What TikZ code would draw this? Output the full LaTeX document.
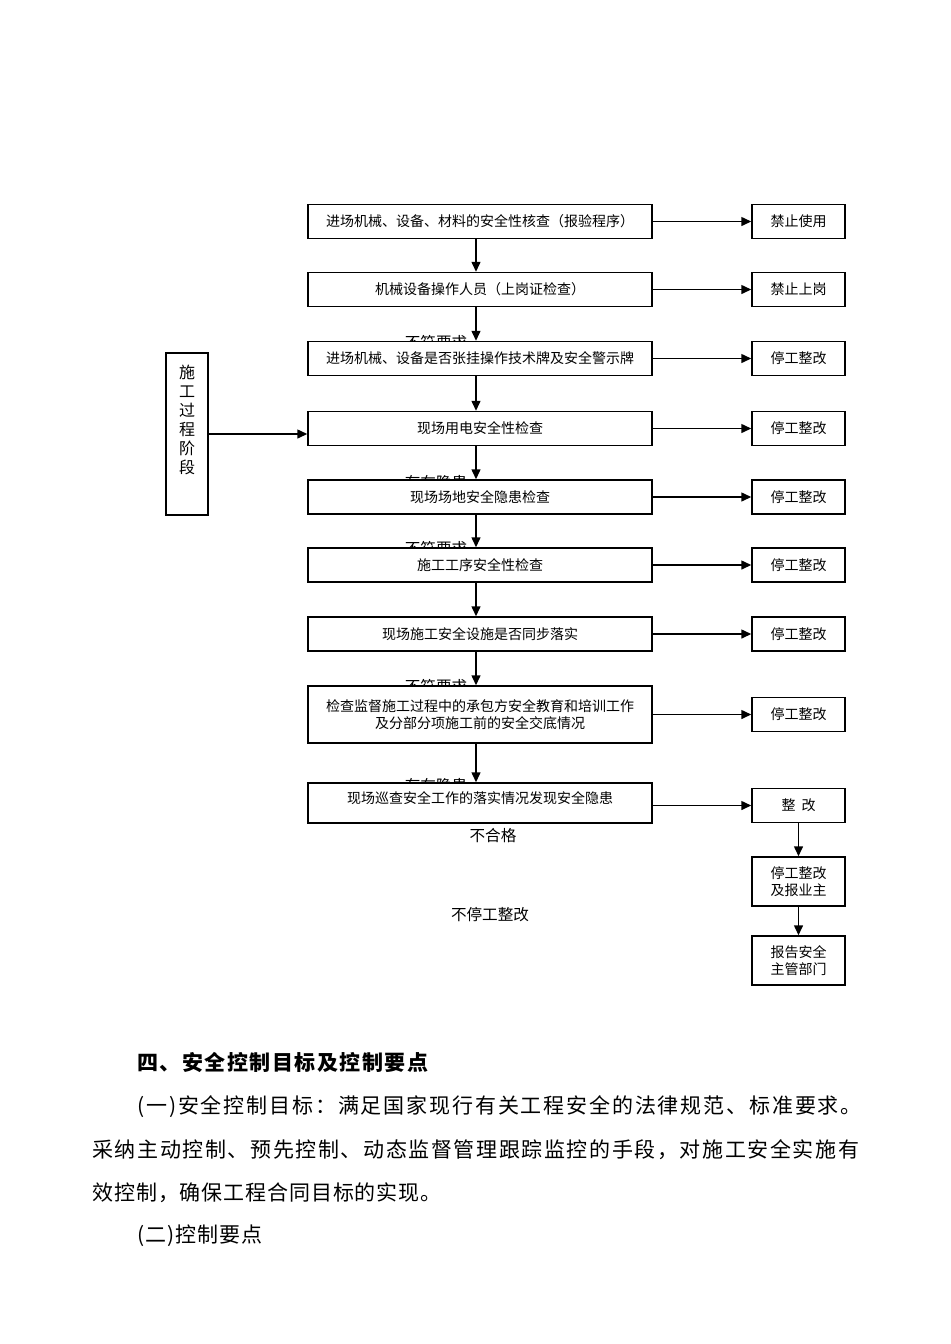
\documentclass[tikz,border=0pt]{standalone}
\usepackage{fontspec}
\setmainfont{Noto Sans CJK SC}
\usetikzlibrary{arrows.meta,positioning}

\begin{document}
\begin{tikzpicture}[x=0.5pt,y=-0.5pt,
    checkbox/.style={draw,line width=0.75pt,fill=white,minimum width=172pt,minimum height=17pt,inner sep=1pt,font=\fontsize{7}{8.5}\selectfont},
    resultbox/.style={draw,line width=0.75pt,fill=white,minimum width=46.5pt,minimum height=17pt,inner sep=1pt,font=\fontsize{7}{8.5}\selectfont},
    hint/.style={font=\fontsize{7.8}{9.5}\selectfont},
    arr/.style={line width=0.75pt,-{Triangle[length=5pt,width=4.5pt]}},
    para/.style={anchor=west,inner sep=0pt}]
    \useasboundingbox (0,0) rectangle (950,1344);

    % labels left under the boxes
    \node[hint] at (436,343) {不符要求};
    \node[hint] at (436,483) {存在隐患};
    \node[hint] at (436,549) {不符要求};
    \node[hint] at (436,687) {不符要求};
    \node[hint] at (436,786) {存在隐患};

    % main checks
    \node[checkbox] (b1) at (480,221.5) {进场机械、设备、材料的安全性核查（报验程序）};
    \node[checkbox] (b2) at (480,289.5) {机械设备操作人员（上岗证检查）};
    \node[checkbox] (b3) at (480,358.5) {进场机械、设备是否张挂操作技术牌及安全警示牌};
    \node[checkbox] (b4) at (480,428.5) {现场用电安全性检查};
    \node[checkbox] (b5) at (480,497) {现场场地安全隐患检查};
    \node[checkbox] (b6) at (480,565) {施工工序安全性检查};
    \node[checkbox] (b7) at (480,634) {现场施工安全设施是否同步落实};
    \node[checkbox,minimum height=28.5pt,align=center] (b8) at (480,714.5) {检查监督施工过程中的承包方安全教育和培训工作\\及分部分项施工前的安全交底情况};
    \node[checkbox,minimum height=20pt,text depth=5pt] (b9) at (480,803) {现场巡查安全工作的落实情况发现安全隐患};

    % results
    \node[resultbox] (r1) at (798.5,221.5) {禁止使用};
    \node[resultbox] (r2) at (798.5,289.5) {禁止上岗};
    \node[resultbox] (r3) at (798.5,358.5) {停工整改};
    \node[resultbox] (r4) at (798.5,428.5) {停工整改};
    \node[resultbox] (r5) at (798.5,497) {停工整改};
    \node[resultbox] (r6) at (798.5,565) {停工整改};
    \node[resultbox] (r7) at (798.5,634) {停工整改};
    \node[resultbox] (r8) at (798.5,714.5) {停工整改};
    \node[resultbox] (r9) at (798.5,805.5) {整\hspace{3pt}改};
    \node[resultbox,minimum height=24.5pt,align=center] (r10) at (798.5,881.5) {停工整改\\及报业主};
    \node[resultbox,minimum height=24.5pt,align=center] (r11) at (798.5,960.5) {报告安全\\主管部门};

    % stage box
    \node[draw,line width=0.75pt,minimum width=21pt,minimum height=81pt] (stage) at (187,434) {};
    \node[font=\fontsize{8}{9.5}\selectfont,align=center] (stagetext) at (187,420) {施\\工\\过\\程\\阶\\段};

    \node[hint] (fail) at (493,836) {不合格};
    \node[hint] (nostop) at (490,915) {不停工整改};

    % connectors
    \foreach \i in {1,...,8} {
        \pgfmathtruncatemacro\j{\i+1}
        \draw[arr] ([xshift=-2pt]b\i.south) -- ([xshift=-2pt]b\j.north);
        \draw[arr] (b\i.east) -- (r\i.west);
    }
    \draw[arr] (b9.east |- r9) -- (r9.west);
    \draw[arr] (r9) -- (r10);
    \draw[arr] (r10) -- (r11);
    \draw[arr] (stage.east) -- (stage.east -| b4.west);

    % text below the chart
    \node[para,font=\fontsize{10.5}{12}\selectfont\addfontfeatures{LetterSpace=7}\bfseries] (head) at (137,1062) {四、安全控制目标及控制要点};
    \node[para,font=\fontsize{10.5}{12}\selectfont\addfontfeatures{LetterSpace=8.8}] (p1) at (137,1107) {(一)安全控制目标：满足国家现行有关工程安全的法律规范、标准要求。};
    \node[para,font=\fontsize{10.5}{12}\selectfont\addfontfeatures{LetterSpace=7.6}] (p2) at (92,1150) {采纳主动控制、预先控制、动态监督管理跟踪监控的手段，对施工安全实施有};
    \node[para,font=\fontsize{10.5}{12}\selectfont\addfontfeatures{LetterSpace=4.2}] (p3) at (92,1193) {效控制，确保工程合同目标的实现。};
    \node[para,font=\fontsize{10.5}{12}\selectfont\addfontfeatures{LetterSpace=5}] (p4) at (137,1236) {(二)控制要点};
\end{tikzpicture}
\end{document}
